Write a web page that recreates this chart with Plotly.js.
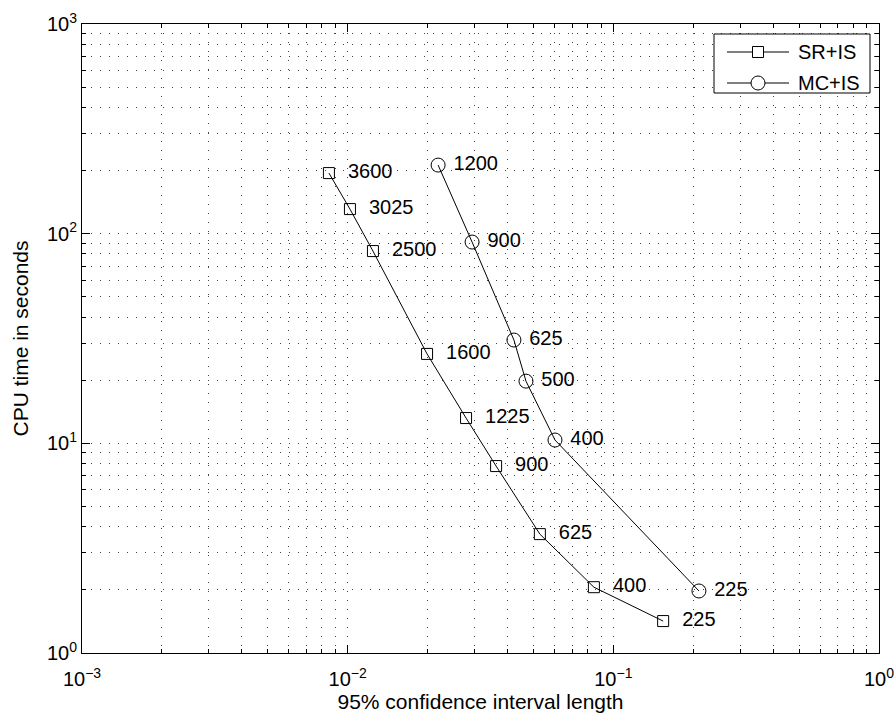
<!DOCTYPE html>
<html>
<head>
<meta charset="utf-8">
<script src="https://cdn.plot.ly/plotly-3.0.1.min.js"></script>
<style>html,body{margin:0;padding:0;background:#fff;}#chart{width:896px;height:715px;}</style>
</head>
<body>
<div id="chart"></div>
<script>
// SR+IS
const srLabels = ["3600", "3025", "2500", "1600", "1225", "900", "625", "400", "225"];
const srCI     = [0.0085, 0.0102, 0.01245, 0.0199, 0.0279, 0.0362, 0.0529, 0.0845, 0.154];
const srCPU    = [194.5, 131, 82.6, 26.7, 13.2, 7.79, 3.69, 2.06, 1.42];
// MC+IS
const mcLabels = ["1200", "900", "625", "500", "400", "225"];
const mcCI     = [0.0219, 0.0294, 0.04225, 0.0469, 0.0603, 0.210];
const mcCPU    = [212.4, 91.2, 31.1, 19.8, 10.37, 1.976];
// tick labels
const xTickVals = [0.001, 0.01, 0.1, 1];
const xTickText = ["10<sup>\u22123</sup>", "10<sup>\u22122</sup>", "10<sup>\u22121</sup>", "10<sup>0</sup>"];
const yTickVals = [1, 10, 100, 1000];
const yTickText = ["10<sup>0</sup>", "10<sup>1</sup>", "10<sup>2</sup>", "10<sup>3</sup>"];
const seriesNames = ["SR+IS", "MC+IS"];

const FONT = "Liberation Sans, Arial, Helvetica, sans-serif";

const traces = [
  {
    name: seriesNames[0], x: srCI, y: srCPU, text: srLabels.map(s => "  " + s),
    mode: "lines+markers+text", textposition: "middle right",
    textfont: {family: FONT, size: 20, color: "#000"},
    line: {color: "#000", width: 1},
    marker: {symbol: "square-open", size: 11, color: "#000", line: {width: 1}},
    showlegend: false
  },
  {
    name: seriesNames[1], x: mcCI, y: mcCPU, text: mcLabels.map(s => " " + s),
    mode: "lines+markers+text", textposition: "middle right",
    textfont: {family: FONT, size: 20, color: "#000"},
    line: {color: "#000", width: 1},
    marker: {symbol: "circle-open", size: 14, color: "#000", line: {width: 1}},
    showlegend: false
  }
];

// minor ticks at 2..9 within each decade (axis furniture)
function minorVals(majors) {
  const out = [];
  majors.slice(0, -1).forEach(m => { for (let k = 2; k <= 9; k++) out.push(m * k); });
  return out;
}

const DOT = "1px,8px";
function axis(range, vals, txt, title, labelOff, titleOff) {
  return {
    type: "log", range: range, tickmode: "array", tickvals: vals, ticktext: txt,
    showline: true, linecolor: "#000", linewidth: 1, mirror: "ticks",
    ticks: "inside", ticklen: 8, tickcolor: "#000", tickwidth: 1,
    showgrid: true, gridcolor: "#444", griddash: DOT, gridwidth: 1,
    zeroline: false, ticklabelstandoff: labelOff,
    minor: {tickmode: "array", tickvals: minorVals(vals), ticks: "inside", ticklen: 4,
            tickcolor: "#000", showgrid: true, gridcolor: "#444", griddash: DOT, gridwidth: 1},
    tickfont: {family: FONT, size: 20, color: "#000"},
    title: {text: title, font: {family: FONT, size: 21, color: "#000"}, standoff: titleOff},
    automargin: false
  };
}

// manual legend (pixel geometry converted to paper coords)
const L = 82, T = 24, W = 797, H = 629;
const px = v => (v - L) / W;
const py = v => (T + H - v) / H;
const rows = [52, 83];
const shapes = [
  {type: "rect", xref: "paper", yref: "paper", x0: px(714), x1: px(870), y0: py(93), y1: py(34),
   line: {color: "#000", width: 1}, fillcolor: "#fff", layer: "above"}
];
const annotations = [];
rows.forEach((ry, i) => {
  shapes.push({type: "line", xref: "paper", yref: "paper", x0: px(727), x1: px(789), y0: py(ry), y1: py(ry),
               line: {color: "#000", width: 1}, layer: "above"});
  const half = i === 0 ? 5.5 : 7;
  shapes.push({type: i === 0 ? "rect" : "circle", xref: "paper", yref: "paper",
               xsizemode: "pixel", ysizemode: "pixel", xanchor: px(758), yanchor: py(ry),
               x0: -half, x1: half, y0: -half, y1: half,
               line: {color: "#000", width: 1}, fillcolor: "#fff", layer: "above"});
  annotations.push({xref: "paper", yref: "paper", x: px(796), y: py(ry), xanchor: "left", yanchor: "middle",
                    text: seriesNames[i], showarrow: false, font: {family: FONT, size: 20, color: "#000"}});
});

const layout = {
  width: 896, height: 715,
  margin: {l: L, r: 896 - L - W, t: T, b: 715 - T - H},
  paper_bgcolor: "#fff", plot_bgcolor: "#fff",
  showlegend: false,
  xaxis: axis([-3, 0], xTickVals, xTickText, "95% confidence interval length", 8, 2),
  yaxis: axis([0, 3], yTickVals, yTickText, "CPU time in seconds", 0, 12),
  shapes: shapes,
  annotations: annotations
};

Plotly.newPlot("chart", traces, layout, {displayModeBar: false, staticPlot: true});
</script>
</body>
</html>
